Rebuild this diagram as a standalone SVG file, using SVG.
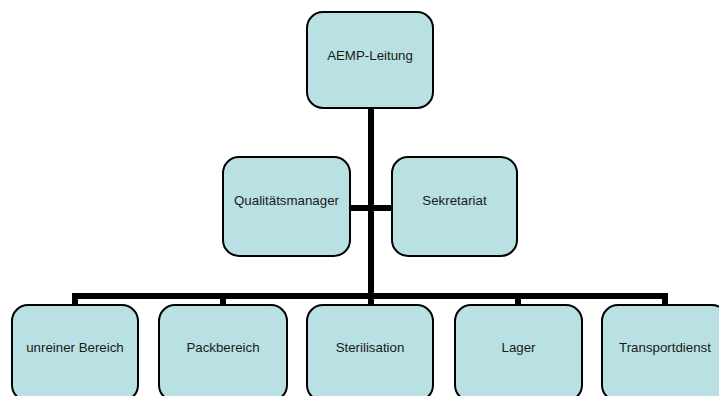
<svg xmlns="http://www.w3.org/2000/svg" width="719" height="396" viewBox="0 0 719 396">
<style>
.box{fill:#B9E0E3;stroke:#000;stroke-width:2}
.lbl{font-family:"Liberation Sans",Arial,sans-serif;font-size:13.3px;fill:#1a1a1a;text-anchor:middle}
.con{stroke:#000;stroke-width:6;fill:none}
</style>
<rect width="719" height="396" fill="#fff"/>
<g id="connectors">
<line class="con" x1="371" y1="108" x2="371" y2="296"/>
<line class="con" x1="350" y1="208" x2="392" y2="208"/>
<polyline class="con" points="75,305 75,296 665,296 665,305"/>
<line class="con" x1="223" y1="296" x2="223" y2="305"/>
<line class="con" x1="371" y1="296" x2="371" y2="305"/>
<line class="con" x1="518" y1="296" x2="518" y2="305"/>
</g>
<g id="n-aemp"><rect class="box" x="307" y="12" width="126" height="96" rx="16"/><text class="lbl" x="370" y="60">AEMP-Leitung</text></g>
<g id="n-qm"><rect class="box" x="223" y="157" width="127" height="99" rx="16"/><text class="lbl" x="286.5" y="205">Qualitätsmanager</text></g>
<g id="n-sek"><rect class="box" x="392" y="157" width="125" height="99" rx="16"/><text class="lbl" x="454.5" y="205">Sekretariat</text></g>
<g id="n-unrein"><rect class="box" x="12" y="305" width="126" height="96" rx="16"/><text class="lbl" x="75" y="352">unreiner Bereich</text></g>
<g id="n-pack"><rect class="box" x="159" y="305" width="128" height="96" rx="16"/><text class="lbl" x="223" y="352">Packbereich</text></g>
<g id="n-steril"><rect class="box" x="307" y="305" width="126" height="96" rx="16"/><text class="lbl" x="370" y="352">Sterilisation</text></g>
<g id="n-lager"><rect class="box" x="455" y="305" width="127" height="96" rx="16"/><text class="lbl" x="518.5" y="352">Lager</text></g>
<g id="n-transport"><rect class="box" x="602" y="305" width="126" height="96" rx="16"/><text class="lbl" x="665" y="352">Transportdienst</text></g>
</svg>
